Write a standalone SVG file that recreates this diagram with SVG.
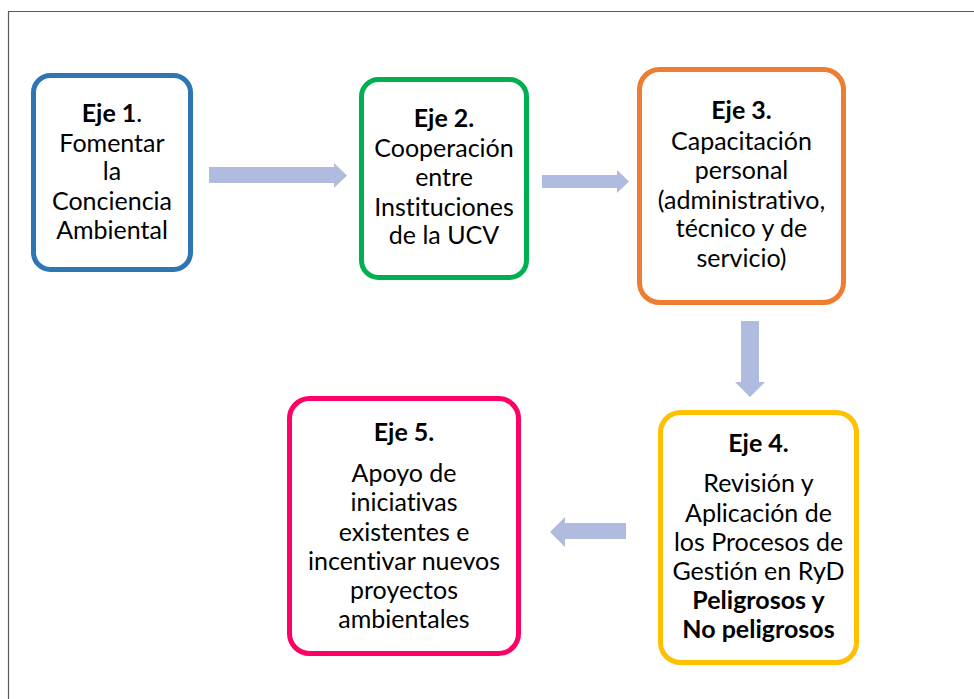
<svg xmlns="http://www.w3.org/2000/svg" width="974" height="699" viewBox="0 0 974 699">
<style>
.box{fill:#fff;stroke-width:5}
.t{font-family:Lato,"Open Sans","Liberation Sans",sans-serif;font-size:25px;fill:#000;text-anchor:middle;font-variant-ligatures:none;font-feature-settings:"liga" 0,"clig" 0}
.b{font-weight:bold}
.arr{fill:#B0BCDF}
</style>
<rect width="974" height="699" fill="#fff"/>
<path d="M8.5 699 V11.5 H974" fill="none" stroke="#595959" stroke-width="1.2"/>
<g id="connectors">
<polygon class="arr" points="209,167 334,167 334,163 347,175.5 334,188 334,183 209,183"/>
<polygon class="arr" points="542,175 617,175 617,170 629,181.5 617,193 617,188 542,188"/>
<polygon class="arr" points="741,321 759,321 759,382 765,382 750,397 735,382 741,382"/>
<polygon class="arr" points="626,523 565,523 565,517 550,532 565,547 565,539 626,539"/>
</g>
<g id="eje1">
<rect class="box" x="33.5" y="75.5" width="157" height="194" rx="17" stroke="#2E75B6"/>
<text class="t" x="112" y="122"><tspan class="b">Eje 1</tspan>.</text>
<text class="t" x="112" y="152">Fomentar</text>
<text class="t" x="112" y="180">la</text>
<text class="t" x="112" y="210">Conciencia</text>
<text class="t" x="112" y="239">Ambiental</text>
</g>
<g id="eje2">
<rect class="box" x="361.5" y="79.5" width="165" height="198" rx="17" stroke="#00B050"/>
<text class="t b" x="444" y="127">Eje 2.</text>
<text class="t" x="444" y="157">Cooperación</text>
<text class="t" x="444" y="186">entre</text>
<text class="t" x="444" y="216">Instituciones</text>
<text class="t" x="444" y="244">de la UCV</text>
</g>
<g id="eje3">
<rect class="box" x="639.5" y="69.5" width="204" height="233" rx="20" stroke="#ED7D31"/>
<text class="t b" x="741.5" y="119">Eje 3.</text>
<text class="t" x="741.5" y="150">Capacitación</text>
<text class="t" x="741.5" y="179">personal</text>
<text class="t" x="741.5" y="209">(administrativo,</text>
<text class="t" x="741.5" y="237">técnico y de</text>
<text class="t" x="741.5" y="267">servicio)</text>
</g>
<g id="eje4">
<rect class="box" x="660.5" y="412.5" width="196" height="250" rx="20" stroke="#FFC000"/>
<text class="t b" x="758.5" y="452">Eje 4.</text>
<text class="t" x="758.5" y="492">Revisión y</text>
<text class="t" x="758.5" y="522">Aplicación de</text>
<text class="t" x="758.5" y="551">los Procesos de</text>
<text class="t" x="758.5" y="580">Gestión en RyD</text>
<text class="t b" x="758.5" y="609">Peligrosos y</text>
<text class="t b" x="758.5" y="638">No peligrosos</text>
</g>
<g id="eje5">
<rect class="box" x="289.5" y="398.5" width="229" height="255" rx="20" stroke="#FF0066"/>
<text class="t b" x="404" y="441">Eje 5.</text>
<text class="t" x="404" y="482">Apoyo de</text>
<text class="t" x="404" y="511">iniciativas</text>
<text class="t" x="404" y="541">existentes e</text>
<text class="t" x="404" y="570">incentivar nuevos</text>
<text class="t" x="404" y="599">proyectos</text>
<text class="t" x="404" y="628">ambientales</text>
</g>
</svg>
